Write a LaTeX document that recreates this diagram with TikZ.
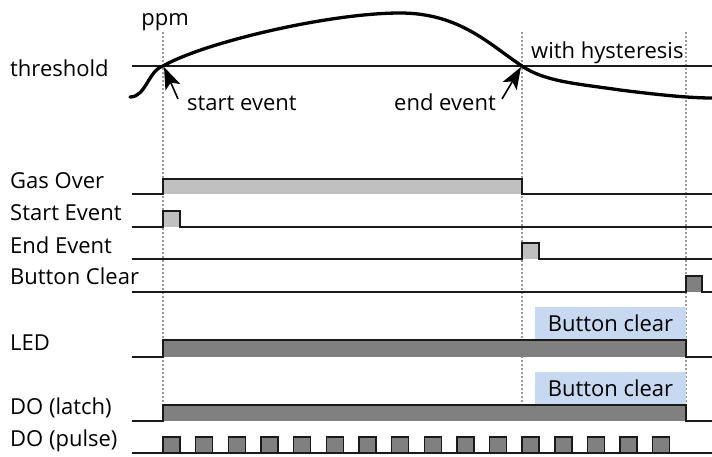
\documentclass[tikz,border=0pt]{standalone}
\usepackage{fontspec}
\setmainfont{Open Sans}
\usetikzlibrary{arrows.meta}
\definecolor{lgray}{HTML}{C0C0C0}
\definecolor{dgray}{HTML}{808080}
\definecolor{lblue}{HTML}{C6D9F1}
\definecolor{dotc}{HTML}{999999}
\definecolor{ink}{HTML}{1A1A1A}
\tikzset{
  sig/.style={draw=ink, line width=1.4pt, line join=miter},
  guide/.style={draw=dotc, line width=1.3pt, dash pattern=on 2pt off 2pt},
  lbl/.style={anchor=base west, inner sep=0pt, font=\fontsize{22}{24}\selectfont},
  txt/.style={inner sep=0pt, font=\fontsize{22}{24}\selectfont},
  note/.style={fill=lblue, inner sep=0pt, minimum width=151pt, minimum height=33pt, font=\fontsize{22}{24}\selectfont},
  evarrow/.style={draw=black, line width=1.6pt, -{Stealth[length=22pt,width=16pt,inset=5pt]}},
  curve/.style={draw=black, line width=3.3pt, line cap=round}
}
\begin{document}
\begin{tikzpicture}[x=1pt,y=-1pt]
\useasboundingbox (0,0) rectangle (712,456);
% guides
\draw[guide] (163,32) -- (163,405);
\draw[guide] (522,32) -- (522,405);
\draw[guide] (686,32) -- (686,405);
% top area
\node[txt, anchor=base] (ppm) at (165,25) {ppm};
\node[lbl] (thr) at (10,76) {threshold};
\draw[sig] (132,66) -- (712,66);
\coordinate (s) at (163,66);
\coordinate (e) at (522,66);
\draw[curve] (130,97) .. controls (146,97) and (148,71) .. (s)
  .. controls (205,42) and (330,13) .. (400,13)
  .. controls (460,13) and (490,45) .. (e)
  .. controls (545,82) and (580,84) .. (620,90)
  .. controls (660,95) and (690,98) .. (712,98);
\node[txt, anchor=base west] (se) at (187,110) {start event};
\node[txt, anchor=base west] (ee) at (394,110) {end event};
\node[txt, anchor=base west] (hy) at (531,58) {with hysteresis};
\coordinate (set) at (178,99);
\coordinate (eet) at (502,99);
\draw[evarrow] (set) -- (164,67);
\draw[evarrow] (eet) -- (521,67);
% labels
\node[lbl] (l1) at (10,188) {Gas Over};
\node[lbl] (l2) at (10,220) {Start Event};
\node[lbl] (l3) at (10,253) {End Event};
\node[lbl] (l4) at (10,284) {Button Clear};
\node[lbl] (l5) at (10,350) {LED};
\node[lbl] (l6) at (10,414) {DO (latch)};
\node[lbl] (l7) at (10,446) {DO (pulse)};
% Gas Over
\fill[lgray] (163,179) rectangle (522,194);
\draw[sig] (132,194) -- (163,194) -- (163,179) -- (522,179) -- (522,194) -- (712,194);
% Start event
\fill[lgray] (163,211) rectangle (180,227);
\draw[sig] (132,227) -- (163,227) -- (163,211) -- (180,211) -- (180,227) -- (712,227);
% End event
\fill[lgray] (522,243) rectangle (539,259);
\draw[sig] (132,259) -- (522,259) -- (522,243) -- (539,243) -- (539,259) -- (712,259);
% Button clear
\fill[dgray] (686,276) rectangle (702,292);
\draw[sig] (132,292) -- (686,292) -- (686,276) -- (702,276) -- (702,292) -- (712,292);
% LED
\node[note] (n1) at (610.5,323.5) {Button clear};
\fill[dgray] (163,340) rectangle (686,357);
\draw[sig] (132,357) -- (163,357) -- (163,340) -- (686,340) -- (686,357) -- (712,357);
% DO latch
\node[note] (n2) at (610.5,388.5) {Button clear};
\fill[dgray] (163,405) rectangle (686,421);
\draw[sig] (132,421) -- (163,421) -- (163,405) -- (686,405) -- (686,421) -- (712,421);
% DO pulse
\foreach \i in {0,...,15} {
  \pgfmathsetmacro{\xa}{163+32.65*\i}
  \pgfmathsetmacro{\xb}{\xa+17}
  \fill[dgray] (\xa,437) rectangle (\xb,453);
  \draw[sig] (\xa,453) -- (\xa,437) -- (\xb,437) -- (\xb,453);
}
\draw[sig] (132,453) -- (712,453);
\end{tikzpicture}
\end{document}
